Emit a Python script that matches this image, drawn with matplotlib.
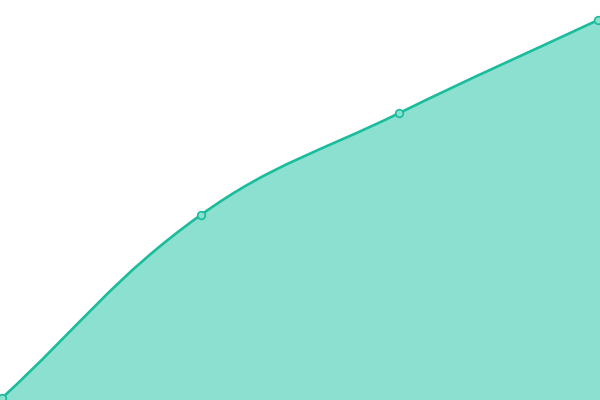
import matplotlib
matplotlib.use("Agg")
import matplotlib.pyplot as plt
import numpy as np
from matplotlib.path import Path
from matplotlib.patches import PathPatch

categories = ["A", "B", "C", "D"]
values = [0, 48.4, 75.4, 100]

line_color = "#1abc9c"
fill_color = "#8be0cf"

fig = plt.figure(figsize=(6, 4), dpi=100)
ax = fig.add_axes([0, 0, 1, 1])
ax.set_xlim(-0.01, 3.01)
ax.set_ylim(-0.53, 105.3)
ax.axis("off")

x = np.arange(len(values), dtype=float)
y = np.array(values, dtype=float)

# spline control points (chart.js style), worked out in pixel space
sx, sy = 198.7, 3.78
px = np.column_stack([x * sx, y * sy])
tension = 0.4
n = len(px)
cps_in = px.copy()
cps_out = px.copy()
for i in range(n):
    prev = px[max(i - 1, 0)]
    nxt = px[min(i + 1, n - 1)]
    d01 = np.hypot(*(px[i] - prev))
    d12 = np.hypot(*(nxt - px[i]))
    s = d01 + d12
    fa = d01 / s if s else 0
    fb = d12 / s if s else 0
    cps_in[i] = px[i] - fa * tension * (nxt - prev)
    cps_out[i] = px[i] + fb * tension * (nxt - prev)

def to_data(p):
    return (p[0] / sx, p[1] / sy)

verts = [to_data(px[0])]
codes = [Path.MOVETO]
for i in range(n - 1):
    verts += [to_data(cps_out[i]), to_data(cps_in[i + 1]), to_data(px[i + 1])]
    codes += [Path.CURVE4] * 3

x0, x1 = ax.get_xlim()
ybot = ax.get_ylim()[0]
fill_verts = ([(x0, verts[0][1])] + verts
              + [(x1, verts[-1][1]), (x1, ybot), (x0, ybot), (x0, verts[0][1])])
fill_codes = ([Path.MOVETO, Path.LINETO] + codes[1:]
              + [Path.LINETO, Path.LINETO, Path.LINETO, Path.CLOSEPOLY])
ax.add_patch(PathPatch(Path(fill_verts, fill_codes), facecolor=fill_color,
                       edgecolor="none", zorder=1))
ax.add_patch(PathPatch(Path(verts, codes), facecolor="none",
                       edgecolor=line_color, linewidth=1.9, zorder=2))
ax.plot(x, y, linestyle="none", marker="o", markersize=5.5,
        markerfacecolor=fill_color, markeredgecolor=line_color,
        markeredgewidth=1.2, zorder=3, clip_on=False)

fig.savefig("out.png", dpi=100)
